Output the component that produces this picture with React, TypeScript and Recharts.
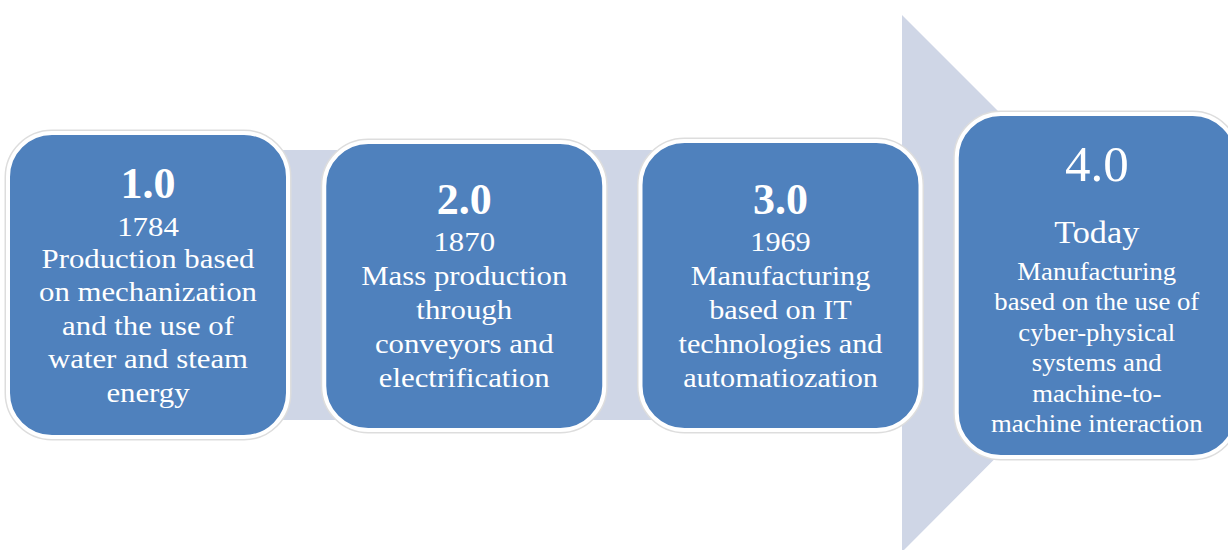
import { Bar, BarChart, Customized, XAxis, YAxis } from "recharts";

const stages = ["1.0", "2.0", "3.0", "4.0"];
const periods = ["1784", "1870", "1969", "Today"];
const descriptions = [
  ["Production based", "on mechanization", "and the use of", "water and steam", "energy"],
  ["Mass production", "through", "conveyors and", "electrification"],
  ["Manufacturing", "based on IT", "technologies and", "automatiozation"],
  ["Manufacturing", "based on the use of", "cyber-physical", "systems and", "machine-to-", "machine interaction"]
];
const weights = [1, 1, 1, 1];

const data = stages.map((stage, i) => ({
  stage,
  period: periods[i],
  lines: descriptions[i],
  value: weights[i]
}));

// vertical layout of each box and its text (pixels)
const boxStyles = [
  { top: 133, bottom: 437, titleSize: 44, titleWeight: 700, titleY: 198, periodSize: 28, periodY: 236, bodySize: 28, bodyY: 268, gap: 33.5, stretch: 1.1 },
  { top: 142, bottom: 430, titleSize: 44, titleWeight: 700, titleY: 214, periodSize: 28, periodY: 251, bodySize: 28, bodyY: 285, gap: 34, stretch: 1.1 },
  { top: 141, bottom: 430, titleSize: 44, titleWeight: 700, titleY: 214, periodSize: 28, periodY: 251, bodySize: 28, bodyY: 285, gap: 34, stretch: 1.08 },
  { top: 114, bottom: 457, titleSize: 51, titleWeight: 400, titleY: 181, periodSize: 32, periodY: 243, bodySize: 25, bodyY: 280, gap: 30.5, stretch: 1.07 }
];

const BOX_FILL = "#4F81BD";
const ARROW_FILL = "#CFD6E6";
const FONT = '"Liberation Serif", "Times New Roman", serif';

function StageBox(props: any) {
  const { x, width, index, payload } = props;
  const s = boxStyles[index];
  const cx = x + width / 2;
  return (
    <g fontFamily={FONT} fill="#fff" textAnchor="middle">
      <rect x={x} y={s.top} width={width} height={s.bottom - s.top} rx={44} ry={44} fill="none" stroke="#dddddd" strokeWidth={7} />
      <rect x={x} y={s.top} width={width} height={s.bottom - s.top} rx={44} ry={44} fill={BOX_FILL} stroke="#fff" strokeWidth={4} />
      <text x={cx} y={s.titleY} fontSize={s.titleSize} fontWeight={s.titleWeight}>
        {payload.stage}
      </text>
      <g transform={`translate(${cx},0) scale(${s.stretch},1)`}>
        <text x={0} y={s.periodY} fontSize={s.periodSize}>
          {payload.period}
        </text>
        {payload.lines.map((line: string, i: number) => (
          <text key={i} x={0} y={s.bodyY + i * s.gap} fontSize={s.bodySize}>
            {line}
          </text>
        ))}
      </g>
    </g>
  );
}

function Arrow() {
  return <polygon points="40,150 912,150 912,15 1180,283 912,552 912,420 40,420" fill={ARROW_FILL} />;
}

export default function App() {
  return (
    <div style={{ position: "absolute", left: 0, top: 0, width: 1228, height: 550, overflow: "hidden", background: "#fff" }}>
      <div style={{ marginLeft: -10 }}>
        <BarChart width={1265} height={550} data={data} margin={{ top: 0, right: 0, bottom: 0, left: 0 }} barCategoryGap={18}>
          <XAxis dataKey="stage" hide />
          <YAxis hide domain={[0, 1]} />
          <Customized component={Arrow} />
          <Bar dataKey="value" shape={<StageBox />} isAnimationActive={false} />
        </BarChart>
      </div>
    </div>
  );
}
